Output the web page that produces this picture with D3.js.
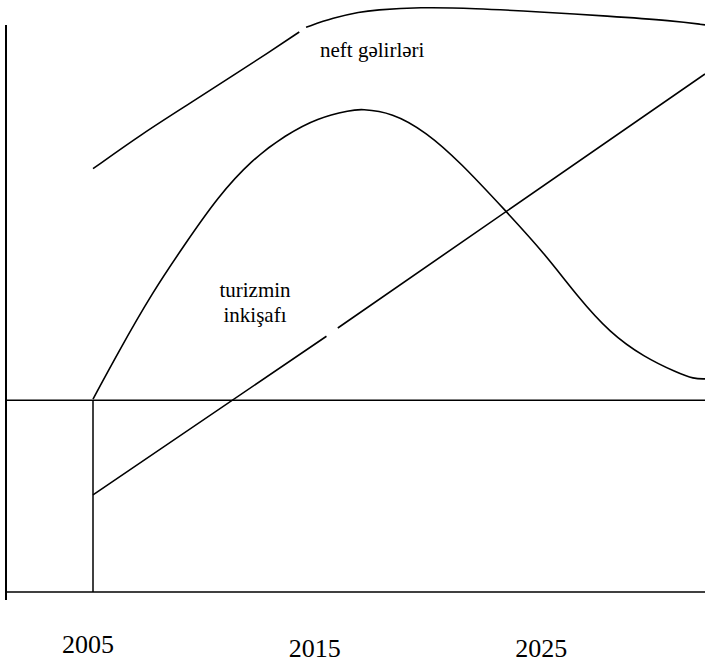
<!DOCTYPE html>
<html>
<head>
<meta charset="utf-8">
<script src="https://cdn.jsdelivr.net/npm/d3@7"></script>
<style>
  body { margin: 0; background: #fff; }
  svg { display: block; }
  text { font-family: "Liberation Serif", "Times New Roman", Times, serif; fill: #000; }
</style>
</head>
<body>
<div id="chart"></div>
<script>
// data (years on x, index value 0-100 on y)
var tickYears = [2005, 2015, 2025];
var tickLabels = ["2005", "2015", "2025"];

// neft gelirleri - upper curve (null = break in the line)
var oilYears  = [2005, 2007.2, 2009.3, 2011.2, 2012.7, 2014.1, null, 2014.4, 2015.6, 2016.8, 2017.4, 2019.4, 2021.8, 2024.7, 2027.7, 2030.6, 2032];
var oilValues = [71.5, 77.5, 82.6, 87.3, 91.0, 94.6, null, 95.4, 97.0, 98.0, 98.3, 98.8, 98.6, 98.0, 97.3, 96.5, 95.8];

// bell shaped curve
var bellYears  = [2005, 2006.1, 2007.6, 2009.1, 2010.5, 2012.0, 2013.5, 2014.9, 2016.4, 2016.8, 2018.2, 2019.7, 2021.2, 2023.2, 2024.9, 2026.4, 2027.8, 2029.3, 2030.8, 2031.5, 2032];
var bellValues = [32.6, 40.4, 50.5, 59.0, 66.7, 73.0, 77.2, 80.1, 81.4, 81.6, 81.0, 77.7, 72.6, 64.4, 57.3, 49.8, 43.8, 39.7, 37.0, 36.0, 36.0];

// turizmin inkisafi - straight line with small break
var tourYears  = [2005, 2015.3, null, 2015.8, 2032];
var tourValues = [16.4, 43.2, null, 44.6, 87.5];

var baseValue = 32.4;   // horizontal reference line

var width = 705;
var height = 664;
var axisX = 6;

var svg = d3.select("#chart")
  .append("svg")
  .attr("width", width)
  .attr("height", height);

var x = d3.scaleLinear().domain([2005, 2032]).range([93, 705]);
var y = d3.scaleLinear().domain([0, 100]).range([592, 0]);

function toPoints(xs, ys) {
  return xs.map(function(d, i) {
    return d === null ? null : { year: d, value: ys[i] };
  });
}

var line = d3.line()
  .defined(function(d) { return d !== null; })
  .x(function(d) { return x(d.year); })
  .y(function(d) { return y(d.value); })
  .curve(d3.curveBasis);

var straight = d3.line()
  .defined(function(d) { return d !== null; })
  .x(function(d) { return x(d.year); })
  .y(function(d) { return y(d.value); });

//frame lines
svg.append("line")
  .attr("x1", axisX).attr("x2", axisX)
  .attr("y1", 25).attr("y2", 600)
  .attr("stroke", "#000").attr("stroke-width", 2);

svg.append("line")
  .attr("x1", axisX).attr("x2", x.range()[1])
  .attr("y1", y(baseValue)).attr("y2", y(baseValue))
  .attr("stroke", "#000").attr("stroke-width", 1.6);

svg.append("line")
  .attr("x1", axisX).attr("x2", x.range()[1])
  .attr("y1", y(0)).attr("y2", y(0))
  .attr("stroke", "#000").attr("stroke-width", 1.6);

svg.append("line")
  .attr("x1", x(2005)).attr("x2", x(2005))
  .attr("y1", y(baseValue)).attr("y2", y(0))
  .attr("stroke", "#000").attr("stroke-width", 1.5);

//curves
svg.append("path")
  .datum(toPoints(oilYears, oilValues))
  .attr("d", line)
  .attr("fill", "none").attr("stroke", "#000").attr("stroke-width", 1.6);

svg.append("path")
  .datum(toPoints(bellYears, bellValues))
  .attr("d", line)
  .attr("fill", "none").attr("stroke", "#000").attr("stroke-width", 1.6);

svg.append("path")
  .datum(toPoints(tourYears, tourValues))
  .attr("d", straight)
  .attr("fill", "none").attr("stroke", "#000").attr("stroke-width", 1.6);

//labels
svg.append("text")
  .attr("x", 320).attr("y", 57)
  .attr("font-size", 21)
  .text("neft gəlirləri");

var tLabel = svg.append("text")
  .attr("text-anchor", "middle")
  .attr("font-size", 21);
tLabel.append("tspan").attr("x", 255).attr("y", 297).text("turizmin");
tLabel.append("tspan").attr("x", 255).attr("y", 322).text("inkişafı");

//year labels
svg.selectAll(".yr")
  .data(tickYears)
  .enter()
  .append("text")
  .attr("class", "yr")
  .attr("text-anchor", "middle")
  .attr("font-size", 26)
  .attr("x", function(d) { return x(d) - 5; })
  .attr("y", function(d, i) { return i === 0 ? 653 : 657; })
  .text(function(d, i) { return tickLabels[i]; });
</script>
</body>
</html>
